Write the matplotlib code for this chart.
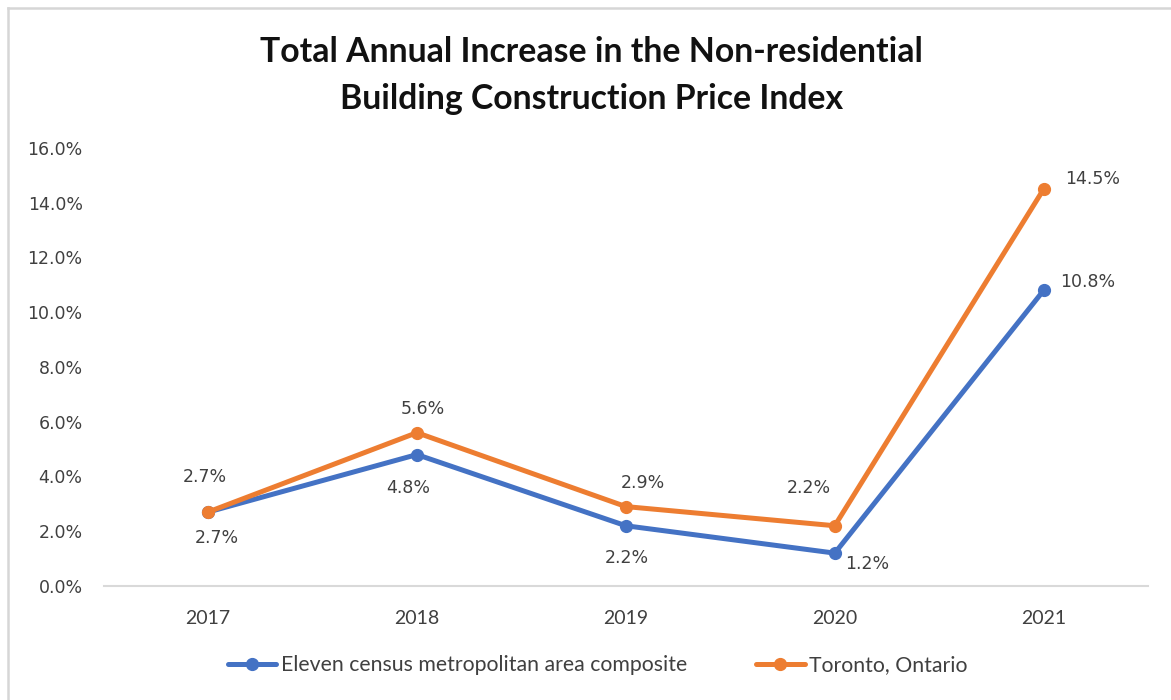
import matplotlib.pyplot as plt
from matplotlib.lines import Line2D

years = ['2017', '2018', '2019', '2020', '2021']
composite = [2.7, 4.8, 2.2, 1.2, 10.8]  # eleven CMA composite, %
toronto = [2.7, 5.6, 2.9, 2.2, 14.5]  # Toronto, %
yticks = [0, 2, 4, 6, 8, 10, 12, 14, 16]

blue = '#4472C4'
orange = '#ED7D31'

# label offsets in points (from the point)
off_blue = [(6, -19), (-6, -24), (1, -23), (23, -8), (32, 6)]
off_orange = [(-2, 25), (4, 17), (12, 17), (-19, 27), (35, 7)]

fig = plt.figure(figsize=(11.71, 7), dpi=100)
ax = fig.add_axes([0.0884, 0.1629, 0.8921, 0.6257])

x = list(range(len(years)))
ax.plot(x, composite, color=blue, lw=3.6, marker='o', ms=8.5,
        label='Eleven census metropolitan area composite', solid_capstyle='round')
ax.plot(x, toronto, color=orange, lw=3.6, marker='o', ms=8.5,
        label='Toronto, Ontario', solid_capstyle='round')

for i in x:
    ax.annotate(f'{composite[i]:.1f}%', (i, composite[i]), xytext=off_blue[i],
                textcoords='offset points', ha='center', va='center',
                fontsize=12.5, color='#404040')
    ax.annotate(f'{toronto[i]:.1f}%', (i, toronto[i]), xytext=off_orange[i],
                textcoords='offset points', ha='center', va='center',
                fontsize=12.5, color='#404040')

ax.set_xlim(-0.5, 4.5)
ax.set_ylim(0, 16)
ax.set_xticks(x)
ax.set_xticklabels(years, fontfamily='Lato', fontsize=14, color='#404040')
ax.set_yticks(yticks)
ax.set_yticklabels([f'{v:.1f}%' for v in yticks], fontsize=12.5, color='#404040')
ax.tick_params(axis='both', length=0)
ax.tick_params(axis='y', pad=15)
ax.tick_params(axis='x', pad=17)
for s in ['top', 'right', 'left']:
    ax.spines[s].set_visible(False)
ax.spines['bottom'].set_color('#d9d9d9')
ax.spines['bottom'].set_linewidth(1.5)

fig.text(0.505, 0.892, 'Total Annual Increase in the Non-residential\nBuilding Construction Price Index',
         ha='center', va='center', fontfamily='Lato', fontweight='bold', fontsize=24.3,
         color='#111111', linespacing=1.58)

ax.legend(loc='center', ncol=2, frameon=False, prop={'family': 'Lato', 'size': 15.3},
          handlelength=2.3, columnspacing=3.25, handletextpad=0.2, labelcolor='#404040')
leg = ax.get_legend()
leg.set_bbox_to_anchor((0.5103, 0.05), transform=fig.transFigure)

# light frame around chart (top and left edges visible)
fig.add_artist(Line2D([8 / 1171, 1], [1 - 8 / 700, 1 - 8 / 700], color='#d6d6d6', lw=1.8))
fig.add_artist(Line2D([8 / 1171, 8 / 1171], [0, 1 - 8 / 700], color='#d6d6d6', lw=1.8))

fig.savefig('out.png', dpi=100)
